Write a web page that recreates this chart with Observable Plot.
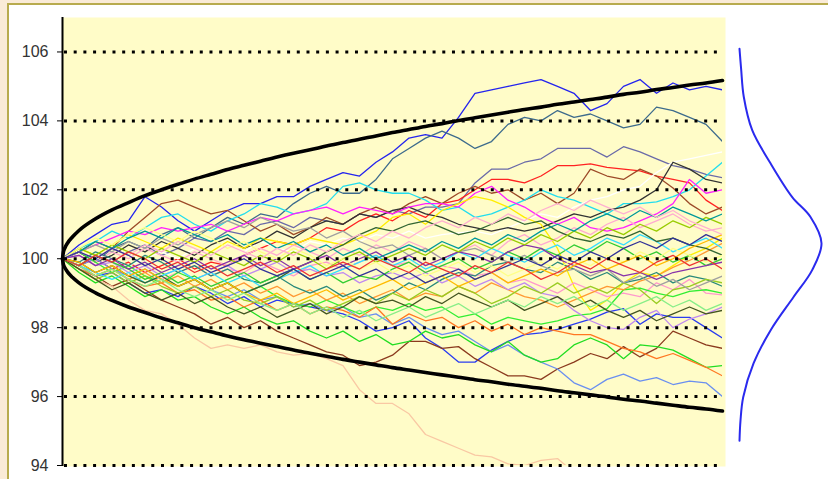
<!DOCTYPE html>
<html><head><meta charset="utf-8">
<script src="https://cdn.jsdelivr.net/npm/d3@7"></script>
<script src="https://cdn.jsdelivr.net/npm/@observablehq/plot@0.6"></script>
<style>
html,body{margin:0;padding:0;background:#faebd7;width:828px;height:479px;overflow:hidden;}
#panel{position:absolute;left:7px;top:3px;width:840px;height:490px;background:#ffffff;border-top:2px solid #b8ab4e;border-left:2px solid #b8ab4e;}
#chart,#bell{position:absolute;left:0;top:0;}
</style></head><body>
<div id="panel"></div><div id="bell"></div><div id="chart"></div>
<script>
// y-axis ticks
const yTicks = [94, 96, 98, 100, 102, 104, 106];

// time steps (41 sample points along the horizon)
const steps = d3.range(41);

// simulated price paths
const pathColors = [
  "#2424ee","#3d6b8c","#6a6aa8","#ff2222","#9c4a28","#22ddee","#ffffff","#333333","#ff22ff","#ffee00",
  "#ff99cc","#ffaad0","#2a3cf0","#8b3a1e","#f9c8a4","#6a8ff0","#22dd22","#33ee33","#ff7722","#ff9933",
  "#2a8a7a","#c08af0","#99cc22","#a0a0a0","#33cc33","#33ddff","#336633","#8833aa","#99cc00","#009999",
  "#ffff88","#445522","#ffbb00","#ffb0d0","#88ee88","#333399","#ee3333"
];
const pathValues = [
  [100,100.4,100.7,101.0,101.1,101.8,101.5,101.1,100.8,101.1,101.4,101.6,101.6,101.8,101.8,102.1,102.3,102.5,102.4,102.8,103.1,103.5,103.6,103.5,104.1,104.8,104.9,105.0,105.1,105.2,105.0,104.8,104.3,104.5,105.0,105.2,104.8,105.1,104.9,105.0,104.9],
  [100,100.2,99.9,100.3,100.5,100.3,100.7,100.9,100.6,100.9,101.2,101.0,101.3,101.2,101.6,101.9,102.1,101.9,101.9,102.3,102.9,103.2,103.5,103.7,103.5,103.2,103.4,103.9,104.1,104.0,104.3,104.1,104.2,104.0,103.8,103.9,104.4,104.3,104.1,103.9,103.4],
  [100,99.8,100.1,99.9,100.2,100.4,100.1,100.3,100.6,100.5,100.8,100.7,101.0,101.1,100.9,101.2,101.1,101.0,101.3,101.2,101.4,101.3,101.5,101.5,101.6,102.2,102.6,102.6,102.8,102.9,103.2,103.2,103.2,102.95,103.25,103.1,102.9,102.7,102.6,102.45,102.35],
  [100,99.8,100.0,99.7,99.9,99.6,99.8,100.0,99.7,99.9,99.8,100.1,100.3,100.5,100.4,100.6,100.9,100.8,101.1,101.3,101.1,101.4,101.2,101.6,101.7,102.0,102.3,102.3,102.2,102.4,102.7,102.7,102.75,102.65,102.6,102.55,102.4,102.3,102.2,101.7,101.4],
  [100,100.2,100.5,100.3,100.8,101.2,101.6,101.7,101.5,101.3,101.4,101.1,100.8,101.0,100.7,100.9,101.2,101.0,101.3,101.5,101.3,101.6,101.8,101.6,101.9,102.1,101.9,102.0,101.7,101.9,101.6,101.9,102.6,102.4,102.3,102.6,102.4,102.05,101.6,101.3,101.5],
  [100,100.3,100.5,100.8,100.6,100.9,101.2,101.3,101.0,100.8,101.1,101.3,101.6,101.5,101.3,101.4,101.6,102.1,102.2,102.0,101.9,101.9,101.7,101.4,101.5,101.2,101.3,101.5,101.7,102.0,101.8,101.7,101.5,101.3,101.6,101.6,101.65,101.8,102.0,102.4,102.8],
  [100,99.9,100.1,100.0,99.8,100.0,100.2,100.0,100.3,100.1,100.4,100.2,100.5,100.3,100.2,100.5,100.4,100.6,100.5,100.7,100.6,100.8,100.6,100.7,100.75,100.8,100.7,100.9,101.1,101.3,101.2,101.5,101.7,101.8,102.0,102.1,102.5,102.8,102.9,103.0,103.1],
  [100,100.2,99.9,100.1,100.4,100.2,100.5,100.3,100.1,100.4,100.6,100.3,100.5,100.8,100.6,100.9,101.1,101.0,101.3,101.2,101.4,101.5,101.3,101.2,101.0,100.9,100.8,100.9,100.8,100.9,101.1,101.3,101.2,101.4,101.5,101.7,102.0,102.8,102.6,102.3,102.2],
  [100,100.2,100.4,100.6,100.8,100.7,100.9,100.8,100.9,101.0,100.8,101.0,101.2,101.1,101.3,101.4,101.5,101.3,101.5,101.4,101.3,101.5,101.6,101.6,101.5,101.9,102.1,101.7,101.5,101.2,101.0,101.2,100.9,100.8,100.9,101.1,101.3,101.6,102.3,101.9,102.0],
  [100,100.3,100.1,100.4,100.7,100.5,100.3,100.6,100.4,100.2,100.5,100.3,100.6,100.5,100.4,100.6,100.5,100.4,100.6,100.8,101.2,101.3,101.0,101.4,101.6,101.8,101.7,101.5,101.2,101.0,100.3,99.2,98.5,98.8,99.3,99.6,99.5,99.8,100.1,100.3,100.6],
  [100,99.8,99.6,99.8,99.5,99.7,99.4,99.6,99.8,99.5,99.7,99.6,99.9,99.7,99.5,99.8,99.9,99.7,99.9,100.1,99.8,99.9,99.6,99.8,99.7,99.5,99.6,99.3,99.4,99.2,99.0,99.3,99.1,98.9,99.0,98.9,99.3,99.1,99.4,99.0,98.95],
  [100,100.1,99.9,100.2,100.0,100.3,100.1,99.9,100.2,100.0,99.8,100.1,100.3,100.1,100.4,100.2,100.0,100.3,100.1,100.4,100.2,100.5,100.3,100.0,100.2,100.4,100.1,100.5,100.7,100.4,100.6,100.9,100.7,101.0,101.2,100.9,101.1,101.3,101.0,100.8,100.9],
  [100,99.7,99.5,99.6,99.3,99.0,99.1,98.9,99.2,99.0,98.7,98.9,98.6,98.8,98.7,98.6,98.5,98.4,98.2,97.9,98.0,98.2,97.7,97.4,97.0,97.0,97.35,97.6,97.8,97.85,97.95,98.1,98.25,98.45,98.55,98.1,98.4,98.3,98.3,98.0,97.7],
  [100,99.8,99.5,99.2,99.4,99.1,98.8,98.6,98.4,98.1,98.3,98.0,98.2,97.9,97.7,97.5,97.3,97.2,96.9,97.0,97.2,97.6,97.6,97.4,97.45,97.1,96.85,96.6,96.6,96.5,96.8,97.0,97.25,97.1,97.45,97.15,97.4,97.9,97.7,97.5,97.4],
  [100,99.7,99.4,99.2,98.8,98.5,98.4,98.1,97.7,97.4,97.5,97.4,97.5,97.3,97.2,97.25,97.1,96.9,96.2,95.8,95.8,95.5,94.9,94.7,94.5,94.3,94.25,94.05,94.0,94.15,94.2,93.8,93.5,93.3,93.1,93.0,92.8,92.9,92.6,92.5,92.4],
  [100,99.8,100.0,99.7,99.5,99.7,99.4,99.2,99.4,99.1,98.9,99.1,98.8,98.9,98.6,98.7,98.5,98.6,98.3,98.4,98.1,98.3,98.0,97.8,97.9,97.6,97.3,97.5,97.2,97.0,96.8,96.4,96.2,96.5,96.65,96.45,96.55,96.35,96.45,96.4,96.0],
  [100,99.6,99.3,99.5,99.2,98.9,99.1,98.8,98.9,98.6,98.4,98.6,98.3,98.1,98.2,97.9,97.7,97.9,97.6,97.8,97.5,97.6,97.9,97.7,97.8,97.5,97.3,97.6,97.2,97.0,97.1,97.5,97.7,97.5,97.1,97.5,97.45,97.35,97.1,96.85,96.9],
  [100,100.2,99.9,99.6,99.8,99.5,99.3,99.6,99.4,99.1,99.3,99.0,99.2,98.9,98.7,98.6,98.8,98.6,98.4,98.6,98.5,98.7,98.5,98.6,98.3,98.4,98.1,98.3,98.2,98.1,98.2,98.35,98.4,98.55,99.1,99.15,99.0,98.9,99.05,99.1,99.0],
  [100,99.7,99.5,99.7,99.4,99.2,99.3,99.0,99.1,98.8,98.9,98.6,98.8,98.5,98.7,98.4,98.6,98.5,98.3,98.6,98.1,98.4,98.2,98.3,98.0,98.2,97.9,98.1,97.8,98.0,97.9,97.8,97.8,97.6,97.4,97.3,97.1,97.25,97.05,96.85,96.6],
  [100,99.8,99.5,99.7,99.4,99.6,99.3,99.5,99.2,99.4,99.1,99.3,99.0,99.2,98.9,99.1,98.8,99.0,98.7,98.9,99.1,98.8,99.0,98.9,99.2,99.0,99.3,99.1,98.9,98.8,98.6,98.8,99.0,99.2,99.1,99.35,99.5,99.75,99.95,100.2,100.45],
  [100,99.9,100.2,100.0,99.8,100.1,99.9,99.6,99.8,99.5,99.7,99.4,99.3,99.5,99.2,99.0,99.2,98.9,99.1,98.8,99.0,99.3,99.1,99.4,99.6,99.5,99.8,99.9,99.7,99.6,99.9,99.7,99.4,99.6,99.3,99.4,99.6,99.3,99.5,99.4,99.2],
  [100,100.1,99.8,99.9,99.6,99.8,99.5,99.7,99.4,99.6,99.8,99.5,99.7,99.9,99.6,99.7,99.5,99.6,99.3,99.5,99.6,99.4,99.6,99.3,99.5,99.2,99.4,99.1,99.3,99.0,98.9,98.5,98.2,98.0,97.95,98.3,98.5,98.0,98.25,98.4,98.6],
  [100,99.7,99.4,99.6,99.3,99.5,99.2,99.0,99.2,98.9,99.1,98.8,98.7,98.9,98.6,98.8,98.5,98.7,98.9,98.7,99.0,98.8,99.1,98.9,99.2,99.0,98.7,98.9,99.2,99.0,99.3,99.0,99.2,99.0,99.3,99.1,98.7,99.1,99.2,99.4,99.3],
  [100,100.2,100.4,100.2,100.5,100.3,100.6,100.4,100.7,100.9,101.1,100.9,101.2,101.0,100.8,100.9,100.6,100.8,100.5,100.3,100.4,100.1,100.3,100.0,100.2,100.3,100.1,99.9,100.1,99.8,99.6,99.7,99.5,99.7,99.3,99.5,99.2,99.4,99.1,99.3,99.5],
  [100,99.8,100.1,99.9,99.7,99.4,99.6,99.3,99.5,99.2,99.4,99.6,99.3,99.5,99.7,99.4,99.6,99.3,99.5,99.4,99.7,99.9,99.6,99.8,100.0,99.7,99.9,100.2,100.0,100.3,100.1,100.4,100.2,100.5,100.3,100.0,100.2,99.9,100.1,99.8,100.0],
  [100,99.8,99.6,99.4,99.6,99.3,99.5,99.7,99.4,99.6,99.3,99.5,99.2,99.4,99.6,99.8,99.5,99.7,99.9,100.1,99.8,100.0,99.7,99.9,100.2,100.0,100.3,100.1,99.9,100.2,100.4,100.1,100.3,100.6,100.4,100.7,100.5,100.2,100.4,100.6,100.3],
  [100,99.9,99.6,99.8,99.5,99.3,99.5,99.2,99.4,99.1,99.3,99.0,99.2,99.4,99.7,99.9,100.2,100.4,100.7,100.9,100.8,101.0,101.1,100.9,100.7,100.8,101.0,101.2,101.0,101.1,100.8,100.6,100.5,100.7,100.6,100.8,100.5,100.6,100.4,100.3,100.1],
  [100,100.1,99.8,100.0,99.7,99.9,99.6,99.8,100.0,99.7,99.9,100.1,99.8,100.0,99.7,99.9,100.1,99.8,100.0,100.2,99.9,100.1,99.8,100.0,100.2,100.1,99.9,100.2,100.4,100.3,100.0,99.8,99.6,99.7,99.5,99.6,99.4,99.6,99.7,99.8,99.9],
  [100,100.3,100.1,100.4,100.2,100.0,100.3,100.1,99.9,100.2,100.0,99.8,100.1,99.9,100.2,100.0,99.7,100.0,100.2,99.9,100.1,100.3,100.1,100.4,100.2,100.5,100.3,100.6,100.4,100.7,100.5,100.8,100.6,100.9,100.7,101.0,100.8,101.1,100.9,101.2,101.0],
  [100,100.2,100.5,100.3,100.6,100.8,100.6,100.9,100.7,100.5,100.7,100.4,100.6,100.3,100.5,100.2,100.4,100.1,100.3,100.0,100.2,100.4,100.2,100.5,100.3,100.6,100.4,100.7,100.5,100.8,101.0,100.8,101.1,101.3,101.1,101.4,101.2,101.5,101.3,101.1,101.3],
  [100,100.3,100.6,100.4,100.7,100.9,100.7,100.5,100.8,100.6,100.3,100.5,100.2,100.0,100.3,100.1,99.8,100.0,99.7,99.9,99.6,99.8,99.5,99.7,99.9,99.6,99.8,99.5,99.7,99.9,99.7,100.0,99.8,100.1,99.9,100.2,100.0,100.3,100.1,99.9,100.1],
  [100,99.7,99.4,99.1,99.3,99.0,98.8,99.0,98.7,98.9,98.6,98.4,98.6,98.3,98.5,98.7,98.4,98.6,98.9,98.7,98.8,98.6,98.9,98.7,99.0,98.8,98.6,98.8,98.5,98.7,98.9,98.6,98.8,98.5,98.3,98.5,98.2,98.4,98.6,98.4,98.5],
  [100,99.9,99.6,99.8,99.5,99.7,99.4,99.2,99.4,99.1,99.3,99.0,98.8,99.0,98.7,98.9,99.1,98.8,99.0,99.2,99.4,99.1,99.3,99.5,99.2,99.4,99.6,99.3,99.5,99.7,99.5,99.8,100.0,99.7,99.9,100.1,99.8,100.0,100.3,100.5,100.7],
  [100,100.2,100.0,100.3,100.1,100.4,100.2,100.5,100.3,100.1,100.4,100.2,100.0,100.3,100.1,100.4,100.2,100.5,100.7,100.5,100.8,100.6,100.9,101.1,100.9,101.2,101.0,101.3,101.1,101.4,101.6,101.4,101.7,101.5,101.3,101.5,101.2,101.4,101.1,100.9,100.7],
  [100,99.8,99.5,99.7,99.4,99.2,99.4,99.1,98.9,99.1,98.8,99.0,98.7,98.5,98.7,98.4,98.6,98.3,98.5,98.2,98.4,98.6,98.3,98.5,98.7,98.4,98.6,98.8,98.6,98.9,98.7,98.9,98.6,98.8,98.5,98.7,98.9,98.6,98.8,98.5,98.7],
  [100,100.2,100.0,100.3,100.1,99.8,100.0,99.7,99.9,99.6,99.8,100.0,99.7,99.5,99.7,99.4,99.6,99.8,99.5,99.7,99.4,99.6,99.3,99.5,99.7,99.4,99.6,99.8,100.0,99.8,100.1,99.9,100.2,100.0,100.3,100.5,100.3,100.6,100.4,100.7,100.5],
  [100,99.8,100.1,99.9,100.2,100.0,99.7,99.9,99.6,99.8,99.5,99.7,99.9,99.6,99.8,99.5,99.7,99.9,99.7,100.0,99.8,99.6,99.9,99.7,99.5,99.8,99.6,99.9,99.7,99.4,99.6,99.9,99.7,100.0,99.8,99.6,99.9,100.1,99.8,100.0,99.7]
];

// confidence envelope (upper and lower bound),
// with extra samples near the start where the curve bends sharply
const envSteps = [0,0.05,0.15,0.3,0.6,1,2,3,4,5,6,7,8,9,10,11,12,13,14,15,16,17,18,19,20,21,22,23,24,25,26,27,28,29,30,31,32,33,34,35,36,37,38,39,40];
const envUpper = [100,100.18,100.32,100.45,100.63,100.82,101.16,101.42,101.63,101.83,102.00,102.16,102.31,102.45,102.59,102.71,102.83,102.95,103.06,103.16,103.27,103.37,103.47,103.56,103.66,103.75,103.84,103.92,104.01,104.09,104.17,104.25,104.33,104.40,104.48,104.55,104.62,104.69,104.77,104.83,104.91,104.97,105.04,105.10,105.17];
const envLower = [100,99.84,99.73,99.62,99.46,99.30,99.01,98.79,98.60,98.44,98.28,98.14,98.00,97.88,97.76,97.65,97.55,97.45,97.35,97.26,97.17,97.08,97.00,96.92,96.84,96.77,96.70,96.63,96.56,96.49,96.43,96.36,96.30,96.24,96.17,96.11,96.05,95.99,95.92,95.87,95.81,95.75,95.69,95.64,95.58];

// terminal distribution curve at the right
const bellValue   = [106.09,105.5,104.70,103.73,102.77,101.79,101.21,100.45,99.67,98.89,97.92,96.96,95.98,95.3,94.72];
const bellDensity = [0,0.02,0.052,0.155,0.378,0.643,0.866,1.0,0.886,0.659,0.378,0.171,0.045,0.012,0];

const rows = [];
pathValues.forEach((vals, p) => vals.forEach((v, i) => rows.push({path: p, step: steps[i], value: v, color: pathColors[p]})));
const env = envSteps.map((s, i) => ({step: s, up: envUpper[i], lo: envLower[i]}));
const bellRows = bellValue.map((v, i) => ({v, d: bellDensity[i]}));

const chart = Plot.plot({
  width: 828, height: 479,
  marginLeft: 62, marginRight: 106, marginTop: 17, marginBottom: 14,
  style: {background: "none", fontFamily: "'Liberation Sans', Arial, sans-serif", fontSize: "16px", overflow: "visible"},
  x: {domain: [0, 40], axis: null},
  y: {domain: [94, 107], ticks: yTicks, tickSize: 5, tickPadding: 9, label: null, tickFormat: d => String(d)},
  color: {type: "identity"},
  marks: [
    Plot.frame({fill: "#fffcc8", stroke: "none", insetRight: -3, insetBottom: -1}),
    Plot.line(rows, {x: "step", y: "value", z: "path", stroke: "color", strokeWidth: 1.3, clip: true}),
    Plot.ruleY(yTicks, {x1: 0.12, x2: 40, stroke: "#000", strokeWidth: 3, strokeDasharray: "3,6.7"}),
    Plot.line(env, {x: "step", y: "up", stroke: "#000", strokeWidth: 3.6, curve: "monotone-x"}),
    Plot.line(env, {x: "step", y: "lo", stroke: "#000", strokeWidth: 3.6, curve: "monotone-x"}),
    Plot.ruleX([0], {y1: 93.97, y2: 107, stroke: "#000", strokeWidth: 2})
  ]
});
chart.querySelectorAll("g[aria-label='y-axis tick label'] text, g[aria-label='y-axis'] text").forEach(t => t.setAttribute("fill", "#333"));
document.getElementById("chart").appendChild(chart);

const bell = Plot.plot({
  width: 828, height: 479,
  marginLeft: 739, marginRight: 7, marginTop: 17, marginBottom: 14,
  style: {background: "none"},
  x: {domain: [0, 1], axis: null},
  y: {domain: [94, 107], axis: null},
  marks: [
    Plot.line(bellRows, {x: "d", y: "v", stroke: "#2a2aee", strokeWidth: 2, curve: "catmull-rom"})
  ]
});
document.getElementById("bell").appendChild(bell);
</script></body></html>
